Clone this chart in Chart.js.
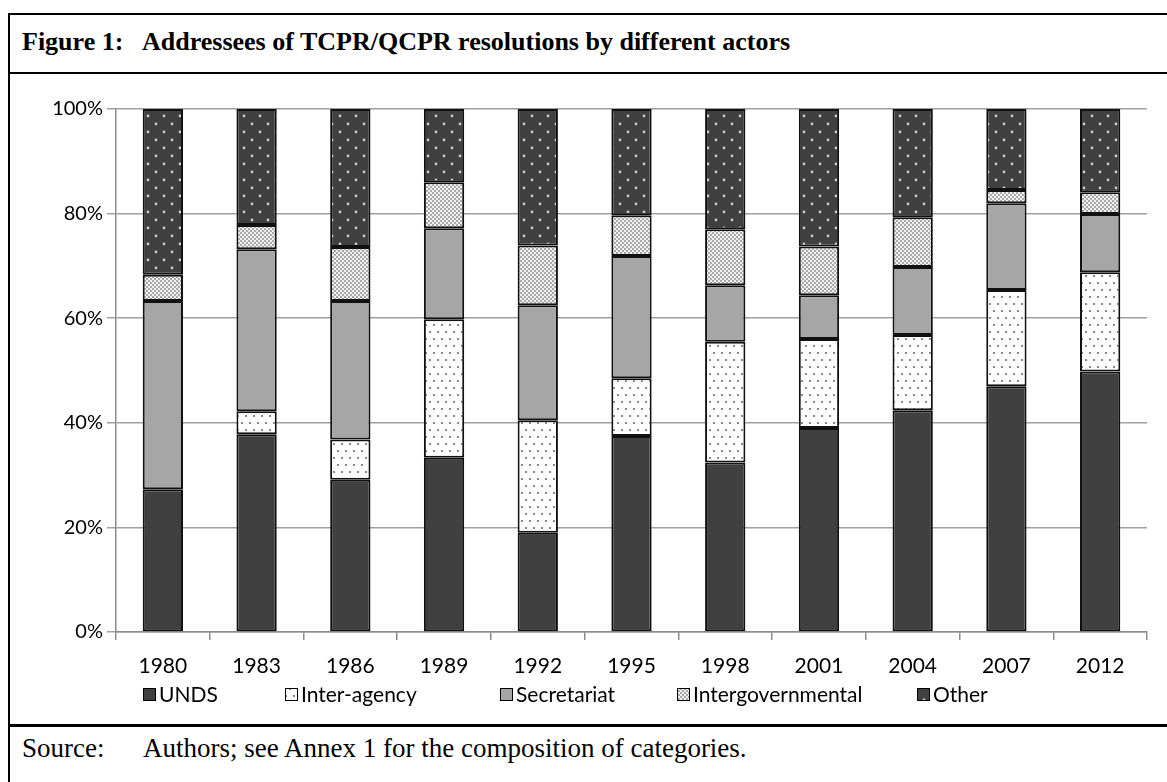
<!DOCTYPE html>
<html>
<head>
<meta charset="utf-8">
<script src="https://cdn.jsdelivr.net/npm/chart.js@4.4.0/dist/chart.umd.min.js"></script>
<style>
    body { margin: 0; background: #fff; width: 1167px; height: 782px; overflow: hidden; position: relative; }
    .line { position: absolute; background: #000; }
    .txt { position: absolute; font-family: 'Liberation Serif', serif; font-size: 26px; color: #000; white-space: nowrap; }
    #wrap { position: absolute; left: 0; top: 0; width: 1167px; height: 720px; }
</style>
</head>
<body>
<div class="line" style="left:8px; top:13px; width:1159px; height:2px;"></div>
<div class="line" style="left:8px; top:72px; width:1159px; height:2px;"></div>
<div class="line" style="left:8px; top:724px; width:1159px; height:3px;"></div>
<div class="line" style="left:8px; top:13px; width:2px; height:769px;"></div>
<div class="txt" style="left:22px; top:27px; font-weight:bold;">Figure 1:</div>
<div class="txt" style="left:142px; top:27px; font-weight:bold;">Addressees of TCPR/QCPR resolutions by different actors</div>
<div class="txt" style="left:22px; top:733px; font-size:27px;">Source:</div>
<div class="txt" style="left:143px; top:733px; font-size:27px;">Authors; see Annex 1 for the composition of categories.</div>
<div id="wrap"><canvas id="myChart" width="1167" height="720"></canvas></div>
<script>
const years = ['1980', '1983', '1986', '1989', '1992', '1995', '1998', '2001', '2004', '2007', '2012'];
const unds = [27.3, 37.8, 29.1, 33.3, 19.0, 37.5, 32.4, 39.0, 42.4, 47.0, 49.8];
const interAgency = [0, 4.4, 7.7, 26.5, 21.5, 11.0, 23.1, 17.0, 14.4, 18.4, 19.0];
const secretariat = [36.0, 31.0, 26.5, 17.4, 22.0, 23.4, 10.8, 8.4, 13.0, 16.6, 11.1];
const intergovernmental = [5.0, 4.6, 10.3, 8.8, 11.4, 7.8, 10.7, 9.3, 9.5, 2.5, 4.2];
const other = [31.7, 22.2, 26.4, 14.0, 26.1, 20.3, 23.0, 26.3, 20.7, 15.5, 15.9];
const yTicks = [0, 20, 40, 60, 80, 100];

function dotPattern(bg, dot, w, h, pts, r) {
    var c = document.createElement('canvas');
    c.width = w;
    c.height = h;
    var g = c.getContext('2d');
    g.fillStyle = bg;
    g.fillRect(0, 0, w, h);
    g.fillStyle = dot;
    pts.forEach(p => {
        g.beginPath();
        g.arc(p[0], p[1], r, 0, Math.PI * 2);
        g.fill();
    });
    return g.createPattern(c, 'repeat');
}

const otherFill = dotPattern('#404040', '#c8c8c8', 16, 16, [[4, 4], [12, 12]], 1.4);
const interFill = dotPattern('#ffffff', '#6e6e6e', 8, 14, [[2, 3], [6, 10]], 1.1);
const intergovFill = dotPattern('#eeeeee', '#8a8a8a', 4, 4, [[1, 1], [3, 3]], 0.9);

// legend row drawn by hand, Excel spaces the entries wider than Chart.js does
const legendStarts = [143, 285, 500, 677, 917];
const legendRow = {
    id: 'legendRow',
    afterDraw(chart) {
        var ctx = chart.ctx;
        ctx.save();
        ctx.font = '21px Lato';
        ctx.textBaseline = 'middle';
        var y = 695;
        chart.data.datasets.forEach((ds, i) => {
            var x = legendStarts[i];
            ctx.fillStyle = ds.backgroundColor;
            ctx.fillRect(x, y - 7, 13, 13);
            ctx.strokeStyle = '#000';
            ctx.lineWidth = 1;
            ctx.strokeRect(x + 0.5, y - 6.5, 12, 12);
            ctx.fillStyle = '#000';
            ctx.fillText(ds.label, x + 16, y);
        });
        ctx.restore();
    }
};

function makeSet(label, data, fill) {
    return {
        label: label,
        data: data,
        backgroundColor: fill,
        borderColor: '#111',
        borderWidth: 2,
        borderSkipped: false,
        categoryPercentage: 1,
        barPercentage: 0.43
    };
}

var ctx = document.getElementById('myChart').getContext('2d');
var chart = new Chart(ctx, {
    type: 'bar',
    data: {
        labels: years,
        datasets: [
            makeSet('UNDS', unds, '#404040'),
            makeSet('Inter-agency', interAgency, interFill),
            makeSet('Secretariat', secretariat, '#a6a6a6'),
            makeSet('Intergovernmental', intergovernmental, intergovFill),
            makeSet('Other', other, otherFill)
        ]
    },
    plugins: [legendRow],
    options: {
        responsive: false,
        animation: false,
        layout: {
            padding: { top: 109, left: 16, right: 20, bottom: 38 }
        },
        plugins: {
            legend: { display: false },
            tooltip: { enabled: false }
        },
        scales: {
            x: {
                stacked: true,
                afterFit: (scale) => { scale.height = 50; },
                grid: {
                    offset: true,
                    drawOnChartArea: false,
                    drawTicks: true,
                    tickLength: 8,
                    color: '#8c8c8c',
                    lineWidth: 1.5
                },
                border: { color: '#8c8c8c', width: 1.5 },
                ticks: {
                    color: '#000',
                    padding: 14,
                    font: { family: 'Lato', size: 21 }
                }
            },
            y: {
                stacked: true,
                min: 0,
                max: 100,
                afterFit: (scale) => { scale.width = 100; },
                afterBuildTicks: (scale) => { scale.ticks = yTicks.map(v => ({ value: v })); },
                grid: {
                    color: '#a0a0a0',
                    lineWidth: 1.5,
                    tickLength: 9
                },
                border: { color: '#8c8c8c', width: 1.5 },
                ticks: {
                    color: '#000',
                    padding: 4,
                    font: { family: 'Lato', size: 20 },
                    callback: (v) => v + '%'
                }
            }
        }
    }
});
</script>
</body>
</html>
